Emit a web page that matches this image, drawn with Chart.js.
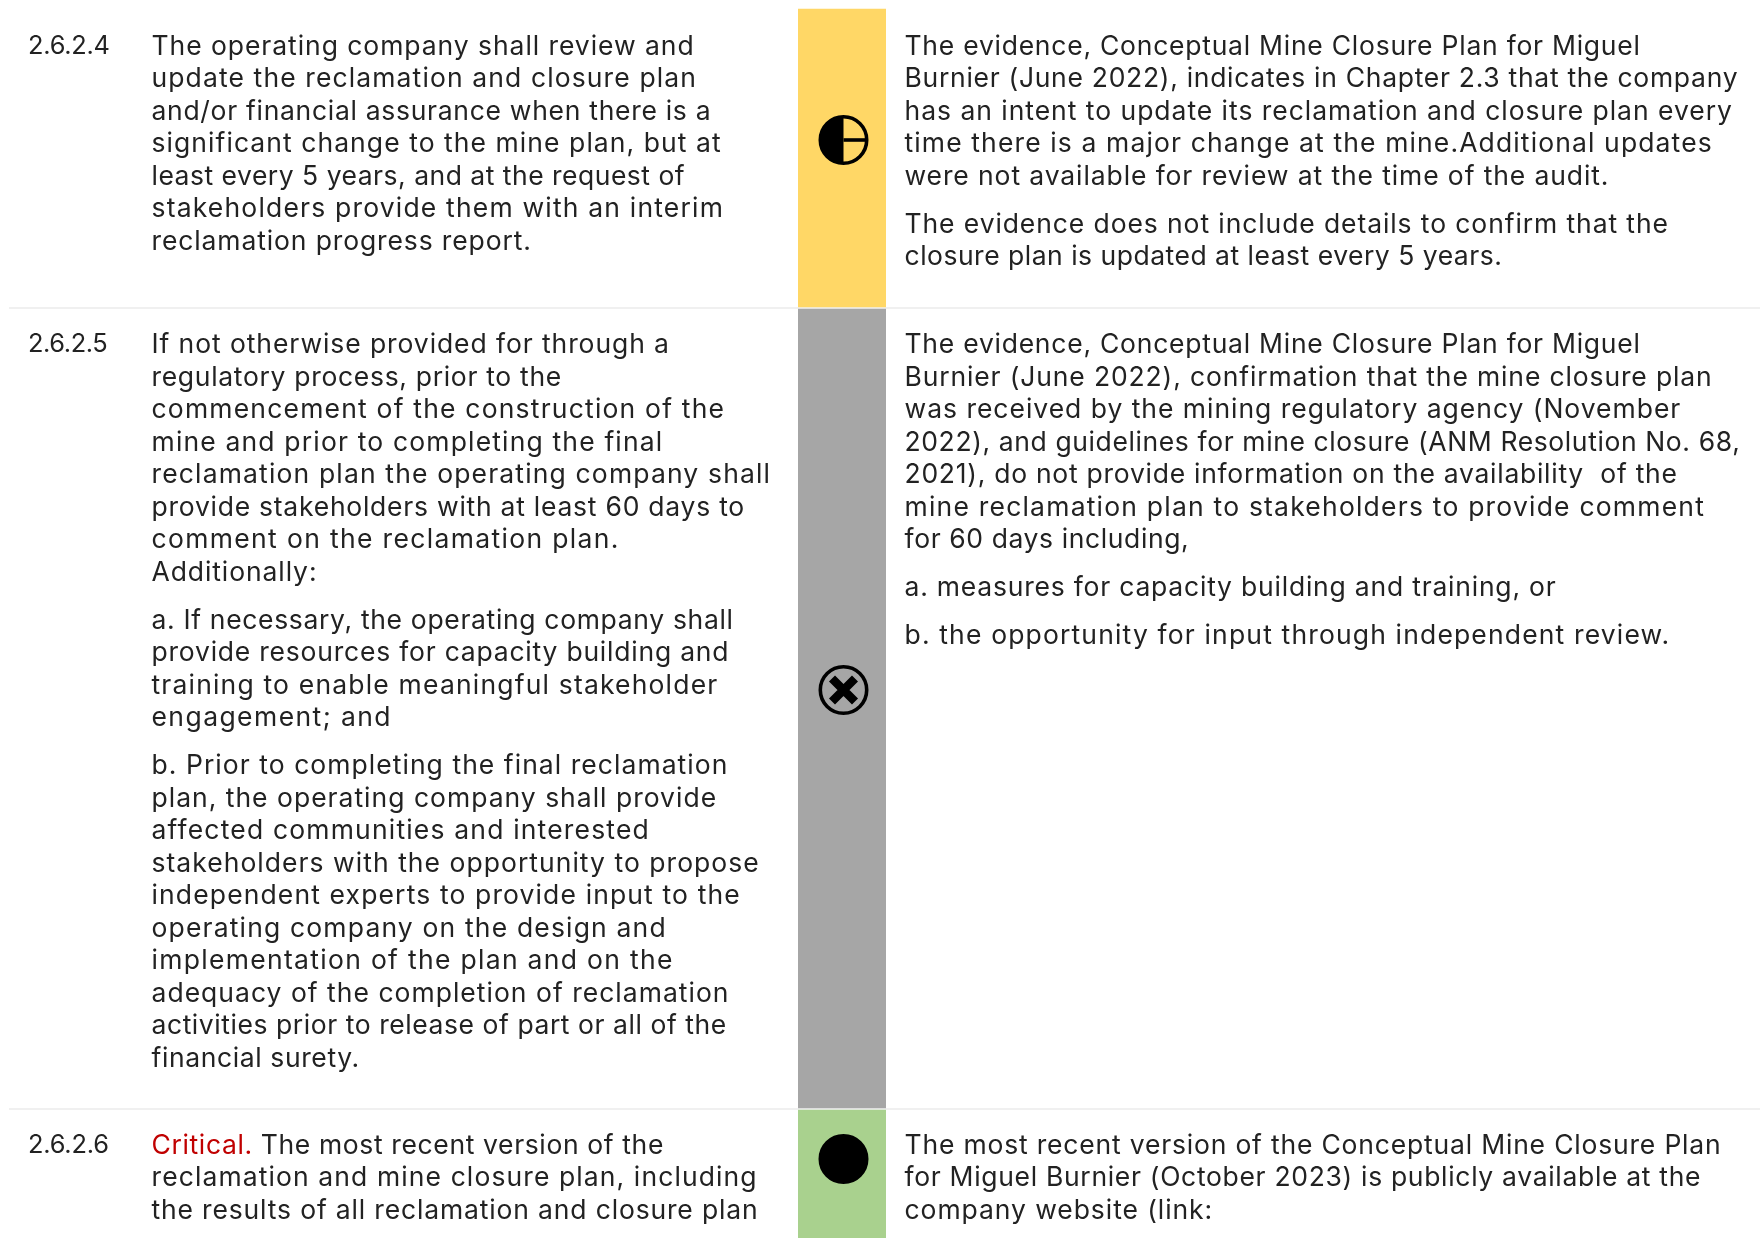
<!DOCTYPE html>
<html>
<head>
<meta charset="utf-8">
<title>Mine closure audit table</title>
<script src="https://cdn.jsdelivr.net/npm/chart.js@4/dist/chart.umd.min.js"></script>
<style>
html, body { margin: 0; padding: 0; background: #fff; }
#page { position: relative; width: 1760px; height: 1238px; overflow: hidden; font-family: Inter, sans-serif; font-size: 26.5px; line-height: 32.5px; color: #222; }
#bands { position: absolute; left: 0; top: 0; }
.sep { position: absolute; left: 9px; right: 0; height: 2px; background: #f0f0f0; }
.cell { position: absolute; white-space: pre; }
.cell p { margin: 0 0 15.7px 0; }
.line { display: table; }
.num { font-size: 25.4px; }
.red { color: #c00000; }
</style>
</head>
<body>
<div id="page">
  <canvas id="bands" width="1760" height="1238"></canvas>
</div>
<script>
const rowLabels = ['2.6.2.4', '2.6.2.5', '2.6.2.6'];
const ratings = ['half', 'none', 'full'];
const bandStart = [9, 309, 1110];
const bandEnd = [307, 1108, 1238];
const iconAt = [140, 690, 1159];
const bandColors = ['#ffd766', '#a6a6a6', '#a9d18e'];
const separators = [307, 1108];

const requirements = [
    [[
        'The operating company shall review and',
        'update the reclamation and closure plan',
        'and/or financial assurance when there is a',
        'significant change to the mine plan, but at',
        'least every 5 years, and at the request of',
        'stakeholders provide them with an interim',
        'reclamation progress report.'
    ]],
    [[
        'If not otherwise provided for through a',
        'regulatory process, prior to the',
        'commencement of the construction of the',
        'mine and prior to completing the final',
        'reclamation plan the operating company shall',
        'provide stakeholders with at least 60 days to',
        'comment on the reclamation plan.',
        'Additionally:'
    ], [
        'a. If necessary, the operating company shall',
        'provide resources for capacity building and',
        'training to enable meaningful stakeholder',
        'engagement; and'
    ], [
        'b. Prior to completing the final reclamation',
        'plan, the operating company shall provide',
        'affected communities and interested',
        'stakeholders with the opportunity to propose',
        'independent experts to provide input to the',
        'operating company on the design and',
        'implementation of the plan and on the',
        'adequacy of the completion of reclamation',
        'activities prior to release of part or all of the',
        'financial surety.'
    ]],
    [[
        'Critical. The most recent version of the',
        'reclamation and mine closure plan, including',
        'the results of all reclamation and closure plan'
    ]]
];

const evidence = [
    [[
        'The evidence, Conceptual Mine Closure Plan for Miguel',
        'Burnier (June 2022), indicates in Chapter 2.3 that the company',
        'has an intent to update its reclamation and closure plan every',
        'time there is a major change at the mine.Additional updates',
        'were not available for review at the time of the audit.'
    ], [
        'The evidence does not include details to confirm that the',
        'closure plan is updated at least every 5 years.'
    ]],
    [[
        'The evidence, Conceptual Mine Closure Plan for Miguel',
        'Burnier (June 2022), confirmation that the mine closure plan',
        'was received by the mining regulatory agency (November',
        '2022), and guidelines for mine closure (ANM Resolution No. 68,',
        '2021), do not provide information on the availability  of the',
        'mine reclamation plan to stakeholders to provide comment',
        'for 60 days including,'
    ], [
        'a. measures for capacity building and training, or'
    ], [
        'b. the opportunity for input through independent review.'
    ]],
    [[
        'The most recent version of the Conceptual Mine Closure Plan',
        'for Miguel Burnier (October 2023) is publicly available at the',
        'company website (link:'
    ]]
];

// where each text line ends in the reference (1568 wide view), in reading order
const requirementEnds = [
    [618, 620, 633, 642, 610, 644, 473],
    [596, 500, 645, 590, 686, 663, 551, 282, 653, 649, 639, 348, 648, 638, 578, 676, 659, 593, 599, 649, 647, 320],
    [591, 674, 675]
];
const evidenceEnds = [
    [1461, 1548, 1543, 1525, 1433, 1486, 1338],
    [1461, 1525, 1497, 1550, 1494, 1518, 1059, 1386, 1487],
    [1533, 1515, 1080]
];
const labelEnds = [98, 96, 97];

const viewScale = 1760 / 1568;
const rowTops = [28.6, 327, 1127.6];
const page = document.getElementById('page');

function addCell(left, top, paragraphs, ends, extra) {
    const cell = document.createElement('div');
    cell.className = 'cell' + (extra ? ' ' + extra : '');
    cell.style.left = left + 'px';
    cell.style.top = top + 'px';
    page.appendChild(cell);
    let n = 0;
    paragraphs.forEach(function (lines) {
        const p = document.createElement('p');
        cell.appendChild(p);
        lines.forEach(function (text) {
            const line = document.createElement('div');
            line.className = 'line';
            if (text.indexOf('Critical.') === 0) {
                const s = document.createElement('span');
                s.className = 'red';
                s.textContent = 'Critical.';
                line.appendChild(s);
                line.appendChild(document.createTextNode(text.slice(9)));
            } else {
                line.textContent = text;
            }
            p.appendChild(line);
            // stretch the line to the width it has in the reference
            const natural = line.getBoundingClientRect().width;
            const target = ends[n] * viewScale - left;
            line.style.letterSpacing = ((target - natural) / (text.length - 1)).toFixed(3) + 'px';
            n++;
        });
    });
}

rowLabels.forEach(function (label, i) {
    addCell(28, rowTops[i], [[label]], [labelEnds[i]], 'num');
    addCell(151.5, rowTops[i], requirements[i], requirementEnds[i]);
    addCell(904.5, rowTops[i], evidence[i], evidenceEnds[i]);
});

separators.forEach(function (y) {
    const line = document.createElement('div');
    line.className = 'sep';
    line.style.top = y + 'px';
    page.insertBefore(line, page.firstChild);
});

// harvey ball drawn once per rating, used as the point image
function harvey(kind) {
    const c = document.createElement('canvas');
    c.width = 56;
    c.height = 56;
    const g = c.getContext('2d');
    const cx = 29.5, cy = 28, r = 23.2;
    g.strokeStyle = '#000';
    g.fillStyle = '#000';
    g.lineWidth = 3.6;
    g.beginPath();
    g.arc(cx, cy, r, 0, Math.PI * 2);
    if (kind === 'full') g.fill();
    g.stroke();
    if (kind === 'half') {
        g.beginPath();
        g.arc(cx, cy, r, Math.PI / 2, Math.PI * 1.5);
        g.closePath();
        g.fill();
        g.beginPath();
        g.moveTo(cx, cy);
        g.lineTo(cx + r, cy);
        g.stroke();
    }
    if (kind === 'none') {
        g.lineWidth = 8.5;
        g.beginPath();
        g.moveTo(cx - 11.5, cy - 11.5);
        g.lineTo(cx + 11.5, cy + 11.5);
        g.moveTo(cx + 11.5, cy - 11.5);
        g.lineTo(cx - 11.5, cy + 11.5);
        g.stroke();
    }
    return c;
}

const ctx = document.getElementById('bands');

new Chart(ctx, {
    type: 'bar',
    data: {
        labels: ['Rating'],
        datasets: [
            {
                type: 'line',
                label: 'Rating icon',
                data: iconAt.map(function (y) { return { x: 'Rating', y: y }; }),
                showLine: false,
                pointStyle: ratings.map(harvey),
                order: 0
            }
        ].concat(rowLabels.map(function (label, i) {
            return {
                label: label,
                data: [[bandStart[i], bandEnd[i]]],
                backgroundColor: bandColors[i],
                grouped: false,
                categoryPercentage: 1,
                barPercentage: 1,
                order: 1
            };
        }))
    },
    options: {
        responsive: false,
        animation: false,
        layout: { autoPadding: false, padding: { left: 798, right: 874, top: 0, bottom: 0 } },
        plugins: {
            legend: { display: false },
            tooltip: { enabled: false }
        },
        scales: {
            x: { display: false },
            y: { display: false, reverse: true, min: 0, max: 1238 }
        }
    }
});
</script>
</body>
</html>
